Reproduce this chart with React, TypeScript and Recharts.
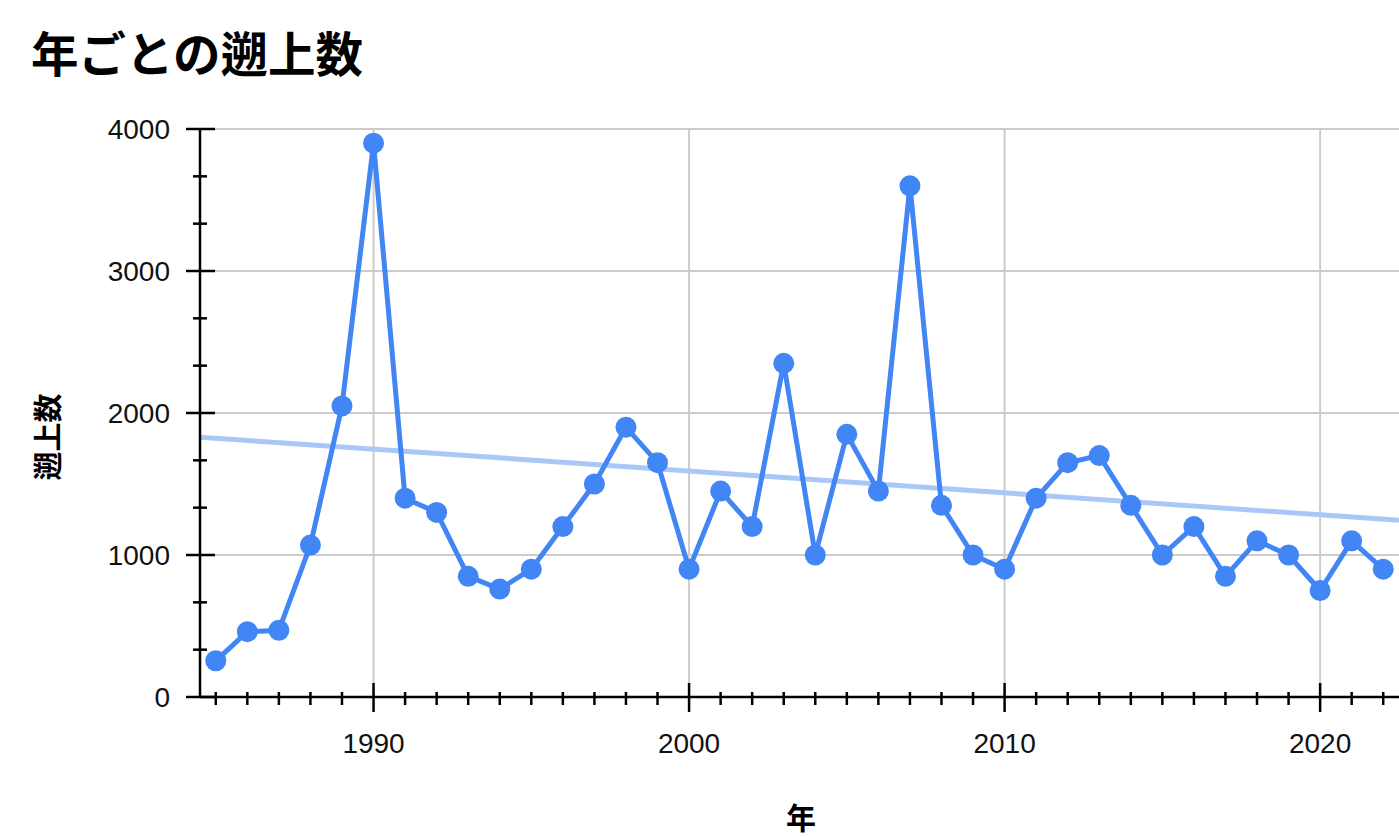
import { LineChart, Line, XAxis, YAxis, CartesianGrid } from "recharts";

// 年ごとの遡上数
const years = [
  1985, 1986, 1987, 1988, 1989, 1990, 1991, 1992, 1993, 1994, 1995, 1996, 1997,
  1998, 1999, 2000, 2001, 2002, 2003, 2004, 2005, 2006, 2007, 2008, 2009, 2010,
  2011, 2012, 2013, 2014, 2015, 2016, 2017, 2018, 2019, 2020, 2021, 2022,
];
const counts = [
  255, 460, 470, 1070, 2050, 3900, 1400, 1300, 850, 760, 900, 1200, 1500,
  1900, 1650, 900, 1450, 1200, 2350, 1000, 1850, 1450, 3600, 1350, 1000, 900,
  1400, 1650, 1700, 1350, 1000, 1200, 850, 1100, 1000, 750, 1100, 900,
];

// trend line ends
const trendYears = [1984.5, 2022.5];
const trendValues = [1830, 1245];

const majorYears = [1990, 2000, 2010, 2020];
const majorCounts = [0, 1000, 2000, 3000, 4000];

const data = years.map((year, i) => ({ year, count: counts[i] }));
const trendData = trendYears.map((year, i) => ({ year, trend: trendValues[i] }));

// minor ticks: every year on x, thirds on y
const yTicks = majorCounts.flatMap((v, i) =>
  i === 0 ? [v] : [v - 2000 / 3, v - 1000 / 3, v]
);

const numFont = "'Liberation Sans', Arial, sans-serif";
const jpFont = "'Noto Sans CJK JP', sans-serif";

const XTick = ({ x, y, payload }: any) => {
  const major = payload.value % 10 === 0;
  return (
    <g>
      <line
        x1={x}
        x2={x}
        y1={major ? y - 14 : y - 5}
        y2={major ? y + 15 : y + 8}
        stroke="#000"
        strokeWidth={2.5}
      />
      {major && (
        <text x={x} y={y + 56} textAnchor="middle" fontSize={28} fill="#111" fontFamily={numFont}>
          {payload.value}
        </text>
      )}
    </g>
  );
};

const YTick = ({ x, y, payload }: any) => {
  const major = majorCounts.includes(Math.round(payload.value));
  return (
    <g>
      <line
        x1={major ? x - 14 : x - 7}
        x2={major ? x + 15 : x + 7}
        y1={y}
        y2={y}
        stroke="#000"
        strokeWidth={2.5}
      />
      {major && (
        <text x={x - 30} y={y + 10} textAnchor="end" fontSize={28} fill="#111" fontFamily={numFont}>
          {Math.round(payload.value)}
        </text>
      )}
    </g>
  );
};

const App = () => {
  return (
    <div
      style={{
        position: "fixed",
        left: 0,
        top: 0,
        width: 1399,
        height: 837,
        overflow: "hidden",
        background: "#fff",
      }}
    >
      <div
        style={{
          position: "absolute",
          left: 31,
          top: 28,
          fontSize: 47.5,
          lineHeight: 1,
          fontWeight: 700,
          fontFamily: jpFont,
          color: "#000",
          whiteSpace: "nowrap",
        }}
      >
        年ごとの遡上数
      </div>
      <div
        style={{
          position: "absolute",
          left: 46,
          top: 437,
          transform: "translate(-50%, -50%) rotate(-90deg)",
          fontSize: 29,
          lineHeight: 1,
          fontWeight: 700,
          fontFamily: jpFont,
          whiteSpace: "nowrap",
        }}
      >
        遡上数
      </div>
      <div
        style={{
          position: "absolute",
          left: 801,
          top: 816,
          transform: "translate(-50%, -50%)",
          fontSize: 30,
          lineHeight: 1,
          fontWeight: 700,
          fontFamily: jpFont,
          whiteSpace: "nowrap",
        }}
      >
        年
      </div>
      <LineChart
        width={1399}
        height={837}
        data={data}
        margin={{ top: 129, right: 0, bottom: 0, left: 0 }}
        style={{ position: "absolute", left: 0, top: 0 }}
      >
        <CartesianGrid
          stroke="#cccccc"
          strokeWidth={2}
          horizontalValues={majorCounts.slice(1)}
          verticalValues={majorYears}
        />
        <XAxis
          dataKey="year"
          type="number"
          domain={[1984.5, 2022.5]}
          ticks={years}
          interval={0}
          allowDataOverflow
          height={140}
          tickSize={0}
          tickMargin={0}
          tickLine={false}
          axisLine={{ stroke: "#000", strokeWidth: 2.5 }}
          tick={XTick}
        />
        <YAxis
          type="number"
          domain={[0, 4000]}
          ticks={yTicks}
          interval={0}
          width={200}
          tickSize={0}
          tickMargin={0}
          tickLine={false}
          axisLine={{ stroke: "#000", strokeWidth: 2.5 }}
          tick={YTick}
        />
        <Line
          data={trendData}
          dataKey="trend"
          type="linear"
          stroke="#a9c8f7"
          strokeWidth={5}
          dot={false}
          activeDot={false}
          isAnimationActive={false}
        />
        <Line
          dataKey="count"
          type="linear"
          stroke="#4285f4"
          strokeWidth={5}
          dot={{ r: 10.5, fill: "#4285f4", stroke: "none" }}
          activeDot={false}
          isAnimationActive={false}
        />
      </LineChart>
    </div>
  );
};

export default App;
